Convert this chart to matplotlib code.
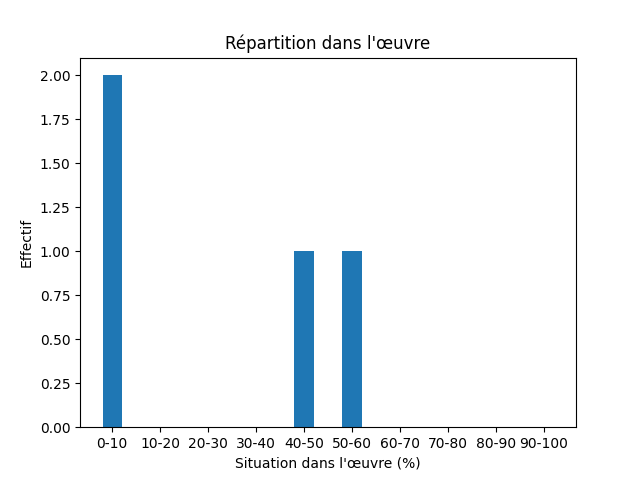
import matplotlib
matplotlib.use("Agg")
import matplotlib.pyplot as plt

categories = ["0-10","10-20","20-30","30-40","40-50","50-60","60-70","70-80","80-90","90-100"]
values = [2,0,0,0,1,1,0,0,0,0]

fig, ax = plt.subplots(figsize=(6.4,4.8), dpi=100)
ax.bar(range(len(categories)), values, width=0.4, color="#1f77b4")
ax.set_xticks(range(len(categories)))
ax.set_xticklabels(categories)
ax.set_title("Répartition dans l'œuvre")
ax.set_xlabel("Situation dans l'œuvre (%)")
ax.set_ylabel("Effectif")
fig.savefig("out.png")
